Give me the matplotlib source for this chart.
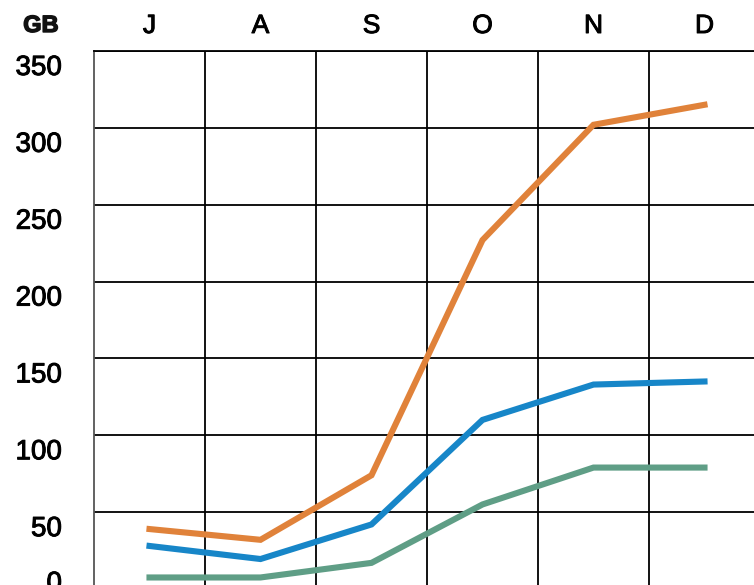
import numpy as np
import matplotlib
matplotlib.use("Agg")
import matplotlib.pyplot as plt
import matplotlib.transforms as mtransforms
import matplotlib.patheffects as pe

plt.rcParams['font.family'] = ['Liberation Sans', 'DejaVu Sans']

# Data (GB per month)
months = ['J', 'A', 'S', 'O', 'N', 'D']
orange_vals = [39, 32, 74, 227, 302, 315]
blue_vals = [28, 19.5, 42, 110, 133, 135]
green_vals = [7.5, 7.5, 17, 55, 79, 79]
yticks = [0, 50, 100, 150, 200, 250, 300, 350]

fig = plt.figure(figsize=(7.54, 5.85), dpi=100)
# axes runs off the bottom of the picture, like the reference
ax = fig.add_axes([94/754, -4/585, 666/754, 538/585])

x = np.arange(len(months))
ax.plot(x, orange_vals, color='#e0823a', lw=4.4, solid_joinstyle='miter')
ax.plot(x, blue_vals, color='#1786c8', lw=4.4, solid_joinstyle='miter')
ax.plot(x, green_vals, color='#5f9e86', lw=4.4, solid_joinstyle='miter')

ax.set_xlim(-0.5, 5.5)
ax.set_ylim(0, 350)

# grid: horizontal at ticks, vertical between months
ax.set_yticks(yticks)
ax.set_xticks(x + 0.5)
ax.grid(True, color='black', lw=1.3)
ax.tick_params(length=0, labelleft=False, labelbottom=False)
for s in ['right', 'bottom']:
    ax.spines[s].set_visible(False)
ax.spines['top'].set_color('black')
ax.spines['top'].set_linewidth(1.3)
ax.spines['left'].set_color('#555555')
ax.spines['left'].set_linewidth(1.3)
ax.set_axisbelow(True)

heavy = [pe.withStroke(linewidth=0.7, foreground='black')]

# y labels sit just under their gridline
trans_y = mtransforms.blended_transform_factory(fig.transFigure, ax.transData)
for v in yticks:
    off = -24 if v > 0 else -2
    t = trans_y + mtransforms.ScaledTranslation(0, off/100, fig.dpi_scale_trans)
    ax.text(62/754, v, str(v), transform=t, ha='right', va='baseline',
            fontsize=20, color='black', clip_on=False, path_effects=heavy)

# month labels across the top
trans_x = mtransforms.blended_transform_factory(ax.transData, fig.transFigure)
for i, m in enumerate(months):
    ax.text(x[i], 1 - 33/585, m, transform=trans_x, ha='center', va='baseline',
            fontsize=19, color='black', path_effects=heavy)

fig.text(41/754, 1 - 32/585, 'GB', ha='center', va='baseline',
         fontsize=17, fontweight='bold', color='#111111',
         path_effects=[pe.withStroke(linewidth=1.0, foreground='#111111')])

fig.savefig('out.png', dpi=100)
